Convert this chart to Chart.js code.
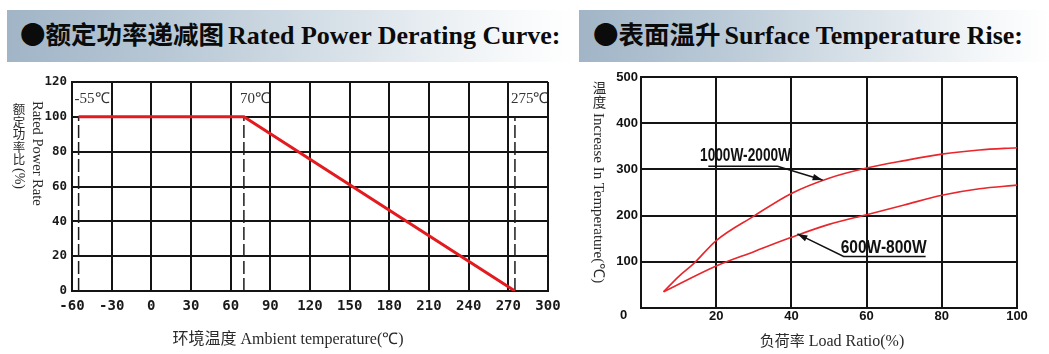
<!DOCTYPE html>
<html>
<head>
<meta charset="utf-8">
<script src="https://cdn.jsdelivr.net/npm/chart.js@4.4.1/dist/chart.umd.min.js"></script>
<style>
  html, body { margin: 0; padding: 0; background: #fff; }
  #page { position: relative; width: 1049px; height: 354px; overflow: hidden; background: #fff; }
  .hdr { position: absolute; top: 10px; height: 52px;
         background: linear-gradient(to right, #a1b5c7 0%, #b9c9d6 30%, #d9e2e9 60%, #f3f6f8 85%, #ffffff 100%); }
  .hdr .t { position: absolute; top: -3px; line-height: 52px; white-space: nowrap; color: #0b0b0b; }
  .cjk { font-family: "Noto Sans CJK SC"; font-weight: 700; font-size: 25.5px; }
  .en { font-family: "Liberation Serif"; font-weight: 700; font-size: 26px; }
  .box { position: absolute; }
  .stack { position: absolute; word-break: break-all; text-align: center; color: #2a2a2a; font-family: "Noto Sans CJK SC"; }
  .rot { position: absolute; white-space: nowrap; transform-origin: 0 0; transform: rotate(90deg); color: #2a2a2a; font-family: "Liberation Serif"; }
  .xt { position: absolute; white-space: nowrap; color: #2a2a2a; transform: translateX(-50%); line-height: 18px; }
  .sc { font-family: "Noto Sans CJK SC"; }
  .sf { font-family: "Liberation Serif"; }
</style>
</head>
<body>
<div id="page">
  <div class="hdr" style="left:7px;width:568px;">
    <div class="t" style="left:13px;"><span class="cjk">●额定功率递减图</span> <span class="en">Rated Power Derating Curve:</span></div>
  </div>
  <div class="hdr" style="left:579px;width:470px;">
    <div class="t" style="left:14px;"><span class="cjk">●表面温升</span> <span class="en">Surface Temperature Rise:</span></div>
  </div>

  <div class="box" style="left:0;top:62px;width:575px;height:292px;"><canvas id="derate"></canvas></div>
  <div class="box" style="left:575px;top:62px;width:474px;height:292px;"><canvas id="rise"></canvas></div>

  <!-- vertical axis titles: upright CJK columns beside sideways Latin text -->
  <div class="stack" style="left:12px;top:103px;width:14px;font-size:12.5px;line-height:12.5px;">额定功率比</div>
  <div class="rot" style="left:26px;top:168px;font-size:14px;line-height:14px;">(%)</div>
  <div class="rot" style="left:45px;top:101px;font-size:14.5px;line-height:15px;">Rated Power Rate</div>
  <div class="stack" style="left:592px;top:80px;width:15px;font-size:13.5px;line-height:14px;">温度</div>
  <div class="rot" style="left:607px;top:113px;font-size:15px;line-height:16px;">Increase In Temperature(℃)</div>

  <div class="xt" style="left:288px;top:328px;"><span class="sc" style="font-size:16px;">环境温度</span> <span class="sf" style="font-size:16px;">Ambient temperature(℃)</span></div>
  <div class="xt" style="left:832px;top:331px;"><span class="sc" style="font-size:15px;">负荷率</span> <span class="sf" style="font-size:16px;">Load Ratio(%)</span></div>
</div>

<script>
// Derating curve: ambient temperature (℃) vs rated power (%)
const ambientTemps = [-60, -30, 0, 30, 60, 90, 120, 150, 180, 210, 240, 270, 300];
const ratePercents = [0, 20, 40, 60, 80, 100, 120];
const derateTemps = [-55, 70, 275];
const derateRates = [100, 100, 0];
const limitTemps = [-55, 70, 275];
const limitLabels = ['-55℃', '70℃', '275℃'];

// Surface temperature rise: load ratio (%) vs temperature increase (℃)
const loadRatios = [0, 20, 40, 60, 80, 100];
const riseTicks = [0, 100, 200, 300, 400, 500];
const seriesNames = ['1000W-2000W', '600W-800W'];
const highLoad = [6, 10, 14, 20, 30, 40, 50, 60, 70, 80, 90, 100];
const highRise = [35, 68, 96, 146, 199, 248, 281, 303, 319, 333, 342, 347];
const lowLoad = [6, 20, 30, 40, 50, 60, 70, 80, 90, 100];
const lowRise = [35, 91, 122, 153, 181, 202, 223, 244, 258, 266];

const toPoints = (xs, ys) => xs.map((x, i) => ({ x, y: ys[i] }));
const GRID = '#141414';

// Text tags above the limit temperatures
const limitLabelPlugin = {
  id: 'limitLabels',
  afterDatasetsDraw(chart) {
    const { ctx, scales: { x, y } } = chart;
    ctx.save();
    ctx.font = '15px "Liberation Serif", serif';
    ctx.fillStyle = '#333';
    ctx.textAlign = 'left';
    ctx.textBaseline = 'middle';
    limitTemps.forEach((t, i) => {
      ctx.fillText(limitLabels[i], x.getPixelForValue(t) - 4, y.getPixelForValue(110));
    });
    ctx.restore();
  }
};

// Callouts naming each curve: condensed label, underline and arrow toward the curve
const callouts = [
  { label: seriesNames[0], width: 91, at: [15.7, 329], rule: [[17.9, 307], [36.3, 307]], tip: [48.3, 277] },
  { label: seriesNames[1], width: 86, at: [53.1, 131], rule: [[75.7, 111.4], [53.9, 111.4]], tip: [41.6, 160.4] }
];
const calloutPlugin = {
  id: 'callouts',
  afterDatasetsDraw(chart) {
    const { ctx, scales: { x, y } } = chart;
    const px = p => [x.getPixelForValue(p[0]), y.getPixelForValue(p[1])];
    ctx.save();
    ctx.fillStyle = '#111';
    ctx.strokeStyle = '#111';
    ctx.lineWidth = 1.5;
    callouts.forEach(c => {
      const [tx, ty] = px(c.at);
      ctx.font = 'bold 19px "Liberation Sans", Arial, sans-serif';
      ctx.textAlign = 'left';
      ctx.textBaseline = 'middle';
      const sx = c.width / ctx.measureText(c.label).width;
      ctx.save();
      ctx.translate(tx, ty);
      ctx.scale(sx, 1);
      ctx.fillText(c.label, 0, 0);
      ctx.restore();
      const a = px(c.rule[0]), b = px(c.rule[1]), t = px(c.tip);
      ctx.beginPath();
      ctx.moveTo(a[0], a[1]);
      ctx.lineTo(b[0], b[1]);
      ctx.lineTo(t[0], t[1]);
      ctx.stroke();
      const ang = Math.atan2(t[1] - b[1], t[0] - b[0]);
      const len = 10, half = 3.2;
      ctx.beginPath();
      ctx.moveTo(t[0], t[1]);
      ctx.lineTo(t[0] - len * Math.cos(ang) + half * Math.sin(ang), t[1] - len * Math.sin(ang) - half * Math.cos(ang));
      ctx.lineTo(t[0] - len * Math.cos(ang) - half * Math.sin(ang), t[1] - len * Math.sin(ang) + half * Math.cos(ang));
      ctx.closePath();
      ctx.fill();
    });
    ctx.restore();
  }
};

const baseOptions = {
  responsive: true,
  maintainAspectRatio: false,
  animation: false,
  events: [],
  plugins: { legend: { display: false }, tooltip: { enabled: false } }
};

new Chart(document.getElementById('derate'), {
  type: 'line',
  data: {
    datasets: [
      { data: toPoints(derateTemps, derateRates), borderColor: '#e31b1e', borderWidth: 3, pointRadius: 0, tension: 0 },
      ...limitTemps.map(t => ({
        data: toPoints([t, t], [0, 100]), borderColor: '#1c1c1c', borderWidth: 1.5,
        borderDash: [13, 4], pointRadius: 0
      }))
    ]
  },
  options: {
    ...baseOptions,
    layout: { padding: { left: 0, right: 27, top: 20, bottom: 0 } },
    scales: {
      x: {
        type: 'linear', min: -60, max: 300,
        afterBuildTicks: s => { s.ticks = ambientTemps.map(v => ({ value: v })); },
        afterFit: s => { s.height = 63; },
        grid: { color: GRID, lineWidth: 2, drawTicks: false },
        border: { color: GRID, width: 2 },
        ticks: { padding: 7, color: '#1a1a1a', autoSkip: false, maxRotation: 0,
                 font: { family: '"DejaVu Sans Mono", monospace', size: 14, weight: 'bold' },
                 callback: v => String(v) }
      },
      y: {
        type: 'linear', min: 0, max: 120,
        afterBuildTicks: s => { s.ticks = ratePercents.map(v => ({ value: v })); },
        afterFit: s => { s.width = 72; },
        grid: { color: GRID, lineWidth: 2, drawTicks: false },
        border: { color: GRID, width: 2 },
        ticks: { padding: 5, color: '#1a1a1a',
                 font: { family: '"DejaVu Sans Mono", monospace', size: 12.5, weight: 'bold' },
                 callback: v => String(v) }
      }
    }
  },
  plugins: [limitLabelPlugin]
});

new Chart(document.getElementById('rise'), {
  type: 'line',
  data: {
    datasets: [
      { label: seriesNames[0], data: toPoints(highLoad, highRise), borderColor: '#e8262b', borderWidth: 1.6,
        pointRadius: 0, cubicInterpolationMode: 'monotone' },
      { label: seriesNames[1], data: toPoints(lowLoad, lowRise), borderColor: '#e8262b', borderWidth: 1.6,
        pointRadius: 0, cubicInterpolationMode: 'monotone' }
    ]
  },
  options: {
    ...baseOptions,
    layout: { padding: { left: 0, right: 32, top: 15, bottom: 0 } },
    scales: {
      x: {
        type: 'linear', min: 0, max: 100,
        afterBuildTicks: s => { s.ticks = loadRatios.map(v => ({ value: v })); },
        afterFit: s => { s.height = 46; },
        grid: { color: GRID, lineWidth: 2, drawTicks: false },
        border: { color: GRID, width: 2 },
        ticks: { padding: 1, color: '#111', autoSkip: false, maxRotation: 0,
                 font: { family: '"Liberation Sans", Arial, sans-serif', size: 13, weight: 'bold' },
                 callback: v => (v === 0 ? '' : String(v)) }
      },
      y: {
        type: 'linear', min: 0, max: 500,
        ticks: { stepSize: 50, padding: 3, color: '#111',
                 font: { family: '"Liberation Sans", Arial, sans-serif', size: 13, weight: 'bold' },
                 callback: v => {
                   if (!riseTicks.includes(v)) return '';
                   return v === 0 ? ['', '0   '] : String(v);
                 } },
        afterFit: s => { s.width = 66; },
        grid: { color: GRID, lineWidth: 2, drawTicks: false },
        border: { color: GRID, width: 2 }
      }
    }
  },
  plugins: [calloutPlugin]
});
</script>
</body>
</html>
